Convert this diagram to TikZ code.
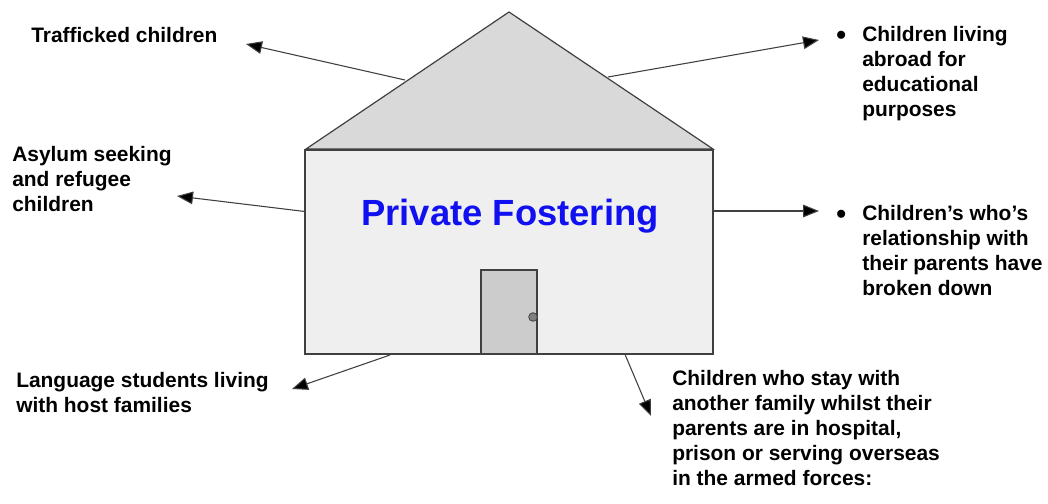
\documentclass[tikz,border=0pt]{standalone}
\usepackage{fontspec}
\setmainfont{Liberation Sans}
\usetikzlibrary{arrows.meta}
\definecolor{roofgray}{HTML}{D9D9D9}
\definecolor{wallgray}{HTML}{EFEFEF}
\definecolor{doorgray}{HTML}{CCCCCC}
\definecolor{edgegray}{HTML}{404040}
\definecolor{knobgray}{HTML}{808080}
\definecolor{titleblue}{HTML}{1010F0}
\newcommand{\bigdot}{\makebox[19.5pt][l]{\raisebox{-2.6pt}{\fontsize{21}{21}\selectfont •}}}
\begin{document}
\begin{tikzpicture}[x=0.75pt,y=-0.75pt,
  label/.style={anchor=base west,inner sep=0pt,font=\fontsize{15.7}{18.9}\selectfont\bfseries,text=black},
  pointer/.style={draw=edgegray,line width=0.8pt,-{Triangle[length=12pt,width=9.5pt,fill=black]}},
  housepart/.style={draw=edgegray,line width=0.9pt}]
\useasboundingbox (0,0) rectangle (1048,503);
\fill[white] (0,0) rectangle (1048,503);
% connector coordinates
\coordinate (sTraf) at (405,80);
\coordinate (eTraf) at (246,44);
\coordinate (sAbr) at (608,77);
\coordinate (eAbr) at (819,40);
\coordinate (sAsy) at (309,212);
\coordinate (eAsy) at (177,196);
\coordinate (sRel) at (713,211);
\coordinate (eRel) at (819,211);
\coordinate (sLan) at (390,355);
\coordinate (eLan) at (292,389);
\coordinate (sSta) at (624,352);
\coordinate (eSta) at (651,416);
\draw[pointer] (sTraf) -- (eTraf);
\draw[pointer] (sAbr) -- (eAbr);
\draw[pointer] (sAsy) -- (eAsy);
\draw[pointer] (sRel) -- (eRel);
\draw[pointer] (sLan) -- (eLan);
\draw[pointer] (sSta) -- (eSta);
% house
\filldraw[housepart,fill=roofgray] (306,149) -- (509,12) -- (713,149) -- cycle;
\filldraw[housepart,fill=wallgray] (305,150) rectangle (713,354);
\filldraw[housepart,fill=doorgray] (481,270) rectangle (537,354);
\filldraw[draw=edgegray,fill=knobgray,line width=0.6pt] (533,317) circle (4.3);
\node[anchor=base,inner sep=0pt,text=titleblue,font=\fontsize{27.3}{32}\selectfont\bfseries] (title) at (510,225) {Private Fostering};
% labels
\node[label] (traf) at (31,43) {Trafficked children};
\node[label] (asy) at (12,161) {\begin{tabular}[t]{@{}l@{}}Asylum seeking\\and refugee\\children\end{tabular}};
\node[label] (lan) at (16,387) {\begin{tabular}[t]{@{}l@{}}Language students living\\with host families\end{tabular}};
\node[label] (sta) at (672,385) {\begin{tabular}[t]{@{}l@{}}Children who stay with\\another family whilst their\\parents are in hospital,\\prison or serving overseas\\in the armed forces:\end{tabular}};
\node[label] (abr) at (836,41) {\bigdot\begin{tabular}[t]{@{}l@{}}Children living\\abroad for\\educational\\purposes\end{tabular}};
\node[label] (rel) at (836,220) {\bigdot\begin{tabular}[t]{@{}l@{}}Children’s who’s\\relationship with\\their parents have\\broken down\end{tabular}};
\end{tikzpicture}
\end{document}
